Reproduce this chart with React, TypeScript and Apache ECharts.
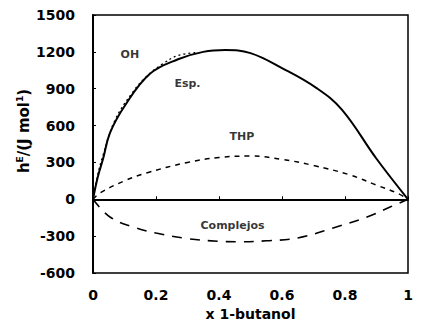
import React, { useEffect, useRef } from "react";
import * as echarts from "echarts";

const espX = [0, 0.015, 0.032, 0.054, 0.1, 0.18, 0.27, 0.35, 0.42, 0.5, 0.6, 0.71, 0.79, 0.9, 1];
const espY = [0, 180, 330, 540, 757, 1020, 1140, 1200, 1215, 1190, 1068, 905, 730, 330, 0];
const ohX = [0, 0.015, 0.032, 0.07, 0.127, 0.17, 0.22, 0.27, 0.33];
const ohY = [0, 200, 360, 645, 875, 1000, 1100, 1170, 1195];
const thpX = [0, 0.022, 0.1, 0.17, 0.3, 0.4, 0.5, 0.6, 0.7, 0.816, 0.9, 0.965, 1];
const thpY = [0, 51, 150, 214, 300, 340, 352, 325, 275, 198, 115, 51, 0];
const comX = [0, 0.054, 0.127, 0.2, 0.3, 0.4, 0.47, 0.55, 0.65, 0.76, 0.87, 0.943, 1];
const comY = [0, -144, -225, -275, -320, -342, -346, -338, -315, -235, -144, -63, 0];
const xTicks = ["0", "0.2", "0.4", "0.6", "0.8", "1"];
const seriesLabels = [
  { text: "OH", x: 0.117, y: 1175 },
  { text: "Esp.", x: 0.3, y: 945 },
  { text: "THP", x: 0.473, y: 507 },
  { text: "Complejos", x: 0.443, y: -210 },
];

const zip = (xs: number[], ys: number[]) => xs.map((x, i) => [x, ys[i]]);

export default function App() {
  const ref = useRef<HTMLDivElement>(null);
  useEffect(() => {
    const chart = echarts.init(ref.current!, null, { renderer: "svg" });
    const font = "DejaVu Sans, sans-serif";
    chart.setOption({
      animation: false,
      grid: {
        left: 93, right: 24, top: 15, bottom: 48,
        containLabel: false, outerBoundsMode: "none",
        show: true, borderColor: "#000", borderWidth: 1.5,
      },
      graphic: [
        {
          type: "text", x: 24, y: 131, rotation: Math.PI / 2,
          style: {
            text: "{b|h}{s|E}{b|/(J mol}{s|1}{b|)}",
            align: "center", verticalAlign: "middle",
            rich: {
              b: { fontFamily: font, fontWeight: "bold", fontSize: 15, fill: "#000", lineHeight: 18 },
              s: { fontFamily: font, fontWeight: "bold", fontSize: 9, fill: "#000", verticalAlign: "top", lineHeight: 18, padding: [0, 0, 8, 0] },
            },
          },
        },
      ],
      xAxis: {
        type: "value", min: 0, max: 1, interval: 0.2,
        axisLine: { show: true, lineStyle: { color: "#000", width: 2 } },
        axisTick: { show: true, inside: true, length: 3, lineStyle: { color: "#000" } },
        splitLine: { show: false },
        axisLabel: {
          color: "#000", fontFamily: font, fontWeight: "bold", fontSize: 14, margin: 15,
          formatter: (v: number) => xTicks[Math.round(v / 0.2)] ?? "",
        },
        name: "x 1-butanol", nameLocation: "middle", nameGap: 31,
        nameTextStyle: { color: "#000", fontFamily: font, fontWeight: "bold", fontSize: 14, lineHeight: 15 },
      },
      yAxis: {
        type: "value", min: -600, max: 1500, interval: 300,
        axisLine: { show: true, lineStyle: { color: "#000", width: 2 } },
        axisTick: { show: true, inside: true, length: 3, lineStyle: { color: "#000" } },
        splitLine: { show: false },
        axisLabel: {
          color: "#000", fontFamily: font, fontWeight: "bold", fontSize: 14, margin: 18,
          formatter: (v: number) => String(v),
        },
      },
      series: [
        {
          type: "line", data: zip(espX, espY), smooth: 0.4, symbol: "none",
          lineStyle: { color: "#000", width: 2 },
        },
        {
          type: "line", data: zip(ohX, ohY), smooth: 0.4, symbol: "none",
          lineStyle: { color: "#000", width: 1.3, type: [2, 3] },
        },
        {
          type: "line", data: zip(thpX, thpY), smooth: 0.4, symbol: "none",
          lineStyle: { color: "#000", width: 1.5, type: [5, 5] },
        },
        {
          type: "line", data: zip(comX, comY), smooth: 0.4, symbol: "none",
          lineStyle: { color: "#000", width: 1.6, type: [10, 8] },
        },
        {
          type: "scatter", symbolSize: 0, silent: true,
          data: seriesLabels.map((l) => ({ value: [l.x, l.y], name: l.text })),
          label: {
            show: true, position: "inside", formatter: (p: any) => p.name,
            color: "#000", fontFamily: font, fontWeight: "bold", fontSize: 11,
          },
        },
      ],
    });
    return () => chart.dispose();
  }, []);
  return <div ref={ref} style={{ width: 432, height: 321, position: "absolute", left: 0, top: 0, background: "#fff" }} />;
}
